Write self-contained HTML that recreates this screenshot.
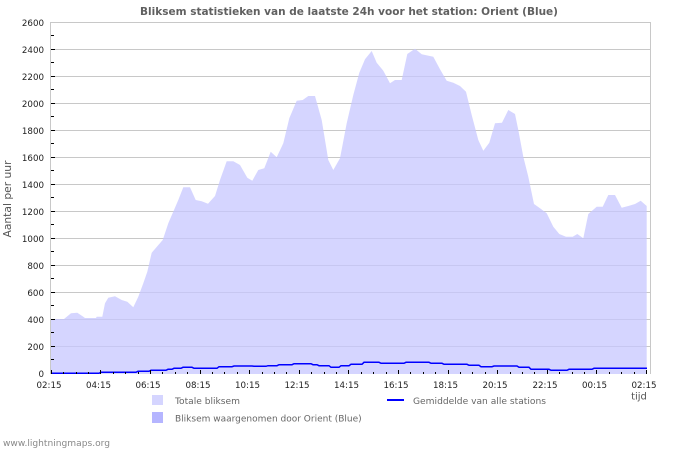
<!DOCTYPE html>
<html><head><meta charset="utf-8"><style>
html,body{margin:0;padding:0;background:#fff;}
svg{display:block;font-family:"DejaVu Sans","Liberation Sans",sans-serif;}
</style></head><body>
<svg width="700" height="450" viewBox="0 0 700 450" xmlns="http://www.w3.org/2000/svg">
<rect width="700" height="450" fill="#fff"/>
<text x="349" y="15" text-anchor="middle" font-size="11" font-weight="bold" fill="#606060" textLength="418" lengthAdjust="spacingAndGlyphs">Bliksem statistieken van de laatste 24h voor het station: Orient (Blue)</text>

<!-- gridlines -->
<g stroke="#c8c8c8" stroke-width="1" shape-rendering="crispEdges">
<line x1="51" y1="22.5" x2="650" y2="22.5"/>
<line x1="51" y1="49.5" x2="650" y2="49.5"/>
<line x1="51" y1="76.5" x2="650" y2="76.5"/>
<line x1="51" y1="103.5" x2="650" y2="103.5"/>
<line x1="51" y1="130.5" x2="650" y2="130.5"/>
<line x1="51" y1="157.5" x2="650" y2="157.5"/>
<line x1="51" y1="184.5" x2="650" y2="184.5"/>
<line x1="51" y1="211.5" x2="650" y2="211.5"/>
<line x1="51" y1="238.5" x2="650" y2="238.5"/>
<line x1="51" y1="265.5" x2="650" y2="265.5"/>
<line x1="51" y1="292.5" x2="650" y2="292.5"/>
<line x1="51" y1="319.5" x2="650" y2="319.5"/>
<line x1="51" y1="346.5" x2="650" y2="346.5"/>
<line x1="650.5" y1="22" x2="650.5" y2="374"/>
<line x1="50.5" y1="22" x2="50.5" y2="374"/>
</g>

<!-- area -->
<polygon fill="rgb(199,199,255)" fill-opacity="0.75" points="51,374 51,319 64,319 71,313.3 77.3,312.7 83.3,316.7 85,318 96,318 96.7,316.7 102.3,316.7 105,303.3 108.3,297.7 115,296.3 121.7,300 127.3,301.7 133.3,307.3 138.3,296.7 143.3,283.3 147.3,271.7 151.7,252.7 156,247.7 162.7,240 168.3,223.3 174,210 178.3,200 183.3,187.3 190,187.3 195.7,200 201.7,201.3 208,203.7 215,196 220,180 226.7,161.3 233.3,161.3 240,165 247.3,177.7 252.3,180.7 258.3,170 264.3,168.3 270.7,151.7 276.7,157.3 283.3,143.3 289.3,118.3 296.7,100.7 302.7,100 308.3,96 315,96 321.7,120 328.3,160 333.3,170 340,158.3 346.7,123.3 353.3,95 359.3,72.7 365,59.3 371.7,51 376.7,62.7 383.3,70.7 390,83.3 395,80 401.7,80 407.3,54 415,48.7 421.7,54.3 433.3,56.7 440,69.3 446.7,80.7 453.3,82.7 460,86 466,91.7 471.7,115 478.3,140 483.3,150.7 489.3,142.7 495,123.3 502,122.7 508.3,110 515,114 518.3,130 523.3,156.7 528.3,176.7 534,204 540,208.3 546.7,213.3 553.3,226.7 559.3,234 566,236.7 572.7,236.7 577.3,234 583.3,238.3 588.3,214 596.7,206.7 602.7,206.7 608.3,195 615,195 621.7,207.7 628.3,206 635,204 640.7,200.7 646.7,206 646.7,374"/>

<!-- average line -->
<polyline fill="none" stroke="#0000ff" stroke-width="1.5" points="51,373.3 99,373.3 101,372.3 136,372.3 138,371.3 149,371.3 151,370.3 166,370.3 168,369.3 172,369.3 174,368.3 181,368.3 183,367.3 192,367.3 194,368.3 217,368.3 219,366.7 232,366.7 234,366 252,366 254,366.3 266,366.3 268,365.7 277,365.7 279,364.7 292,364.7 294,363.7 311,363.7 313,364.7 317,364.7 319,365.7 329,365.7 331,367.3 339,367.3 341,365.7 349,365.7 351,364.3 362,364.3 364,362.3 379,362.3 381,363.3 404,363.3 406,362.3 429,362.3 431,363.3 442,363.3 444,364.3 467,364.3 469,365.3 479,365.3 481,366.7 492,366.7 494,366 517,366 519,367.3 529,367.3 531,369.3 549,369.3 551,370.3 567,370.3 569,369.3 592,369.3 594,368.3 647,368.3"/>

<!-- y ticks -->
<g stroke="#000" stroke-width="1" shape-rendering="crispEdges">
<line x1="51" y1="35.5" x2="54" y2="35.5"/>
<line x1="51" y1="62.5" x2="54" y2="62.5"/>
<line x1="51" y1="89.5" x2="54" y2="89.5"/>
<line x1="51" y1="116.5" x2="54" y2="116.5"/>
<line x1="51" y1="143.5" x2="54" y2="143.5"/>
<line x1="51" y1="170.5" x2="54" y2="170.5"/>
<line x1="51" y1="197.5" x2="54" y2="197.5"/>
<line x1="51" y1="224.5" x2="54" y2="224.5"/>
<line x1="51" y1="251.5" x2="54" y2="251.5"/>
<line x1="51" y1="278.5" x2="54" y2="278.5"/>
<line x1="51" y1="305.5" x2="54" y2="305.5"/>
<line x1="51" y1="332.5" x2="54" y2="332.5"/>
<line x1="51" y1="359.5" x2="54" y2="359.5"/>
<line x1="51" y1="49.5" x2="55" y2="49.5"/>
<line x1="51" y1="76.5" x2="55" y2="76.5"/>
<line x1="51" y1="103.5" x2="55" y2="103.5"/>
<line x1="51" y1="130.5" x2="55" y2="130.5"/>
<line x1="51" y1="157.5" x2="55" y2="157.5"/>
<line x1="51" y1="184.5" x2="55" y2="184.5"/>
<line x1="51" y1="211.5" x2="55" y2="211.5"/>
<line x1="51" y1="238.5" x2="55" y2="238.5"/>
<line x1="51" y1="265.5" x2="55" y2="265.5"/>
<line x1="51" y1="292.5" x2="55" y2="292.5"/>
<line x1="51" y1="319.5" x2="55" y2="319.5"/>
<line x1="51" y1="346.5" x2="55" y2="346.5"/>
</g>

<!-- x ticks -->
<g stroke="#000" stroke-width="1" shape-rendering="crispEdges">
<line x1="51.5" y1="370" x2="51.5" y2="374"/>
<line x1="63.5" y1="372" x2="63.5" y2="374"/>
<line x1="76.5" y1="372" x2="76.5" y2="374"/>
<line x1="88.5" y1="372" x2="88.5" y2="374"/>
<line x1="100.5" y1="370" x2="100.5" y2="374"/>
<line x1="113.5" y1="372" x2="113.5" y2="374"/>
<line x1="125.5" y1="372" x2="125.5" y2="374"/>
<line x1="138.5" y1="372" x2="138.5" y2="374"/>
<line x1="150.5" y1="370" x2="150.5" y2="374"/>
<line x1="162.5" y1="372" x2="162.5" y2="374"/>
<line x1="175.5" y1="372" x2="175.5" y2="374"/>
<line x1="187.5" y1="372" x2="187.5" y2="374"/>
<line x1="200.5" y1="370" x2="200.5" y2="374"/>
<line x1="212.5" y1="372" x2="212.5" y2="374"/>
<line x1="224.5" y1="372" x2="224.5" y2="374"/>
<line x1="237.5" y1="372" x2="237.5" y2="374"/>
<line x1="249.5" y1="370" x2="249.5" y2="374"/>
<line x1="262.5" y1="372" x2="262.5" y2="374"/>
<line x1="274.5" y1="372" x2="274.5" y2="374"/>
<line x1="286.5" y1="372" x2="286.5" y2="374"/>
<line x1="299.5" y1="370" x2="299.5" y2="374"/>
<line x1="311.5" y1="372" x2="311.5" y2="374"/>
<line x1="324.5" y1="372" x2="324.5" y2="374"/>
<line x1="336.5" y1="372" x2="336.5" y2="374"/>
<line x1="348.5" y1="370" x2="348.5" y2="374"/>
<line x1="361.5" y1="372" x2="361.5" y2="374"/>
<line x1="373.5" y1="372" x2="373.5" y2="374"/>
<line x1="386.5" y1="372" x2="386.5" y2="374"/>
<line x1="398.5" y1="370" x2="398.5" y2="374"/>
<line x1="410.5" y1="372" x2="410.5" y2="374"/>
<line x1="423.5" y1="372" x2="423.5" y2="374"/>
<line x1="435.5" y1="372" x2="435.5" y2="374"/>
<line x1="448.5" y1="370" x2="448.5" y2="374"/>
<line x1="460.5" y1="372" x2="460.5" y2="374"/>
<line x1="472.5" y1="372" x2="472.5" y2="374"/>
<line x1="485.5" y1="372" x2="485.5" y2="374"/>
<line x1="497.5" y1="370" x2="497.5" y2="374"/>
<line x1="510.5" y1="372" x2="510.5" y2="374"/>
<line x1="522.5" y1="372" x2="522.5" y2="374"/>
<line x1="534.5" y1="372" x2="534.5" y2="374"/>
<line x1="547.5" y1="370" x2="547.5" y2="374"/>
<line x1="559.5" y1="372" x2="559.5" y2="374"/>
<line x1="572.5" y1="372" x2="572.5" y2="374"/>
<line x1="584.5" y1="372" x2="584.5" y2="374"/>
<line x1="596.5" y1="370" x2="596.5" y2="374"/>
<line x1="609.5" y1="372" x2="609.5" y2="374"/>
<line x1="621.5" y1="372" x2="621.5" y2="374"/>
<line x1="634.5" y1="372" x2="634.5" y2="374"/>
<line x1="646.5" y1="370" x2="646.5" y2="374"/>
</g>

<!-- y labels -->
<g font-size="8.7" fill="#222" text-anchor="end">
<text x="44" y="26">2600</text>
<text x="44" y="53">2400</text>
<text x="44" y="80">2200</text>
<text x="44" y="107">2000</text>
<text x="44" y="134">1800</text>
<text x="44" y="161">1600</text>
<text x="44" y="188">1400</text>
<text x="44" y="215">1200</text>
<text x="44" y="242">1000</text>
<text x="44" y="269">800</text>
<text x="44" y="296">600</text>
<text x="44" y="323">400</text>
<text x="44" y="350">200</text>
<text x="44" y="377">0</text>
</g>

<!-- x labels -->
<g font-size="8.7" fill="#222" text-anchor="middle">
<text x="49" y="388">02:15</text>
<text x="98.5" y="388">04:15</text>
<text x="148" y="388">06:15</text>
<text x="198" y="388">08:15</text>
<text x="247.5" y="388">10:15</text>
<text x="297" y="388">12:15</text>
<text x="346.5" y="388">14:15</text>
<text x="396" y="388">16:15</text>
<text x="445.5" y="388">18:15</text>
<text x="495" y="388">20:15</text>
<text x="545" y="388">22:15</text>
<text x="594.5" y="388">00:15</text>
<text x="644" y="388">02:15</text>
</g>
<text x="639" y="399.5" font-size="10" fill="#555" text-anchor="middle">tijd</text>

<text transform="translate(11,199) rotate(-90)" font-size="10.5" fill="#555" text-anchor="middle" textLength="77" lengthAdjust="spacingAndGlyphs">Aantal per uur</text>

<!-- legend -->
<rect x="152" y="395" width="11" height="10" fill="#d5d5ff"/>
<rect x="152" y="412" width="11" height="11" fill="#b5b5ff"/>
<text x="175" y="404" font-size="9" fill="#666" textLength="65" lengthAdjust="spacingAndGlyphs">Totale bliksem</text>
<text x="175" y="421.5" font-size="9" fill="#666">Bliksem waargenomen door Orient (Blue)</text>
<line x1="387" y1="400" x2="404" y2="400" stroke="#0000ff" stroke-width="2"/>
<text x="413" y="404" font-size="9" fill="#666" textLength="133" lengthAdjust="spacingAndGlyphs">Gemiddelde van alle stations</text>

<text x="3" y="446" font-size="9" fill="#888" textLength="107" lengthAdjust="spacingAndGlyphs">www.lightningmaps.org</text>
</svg>
</body></html>
